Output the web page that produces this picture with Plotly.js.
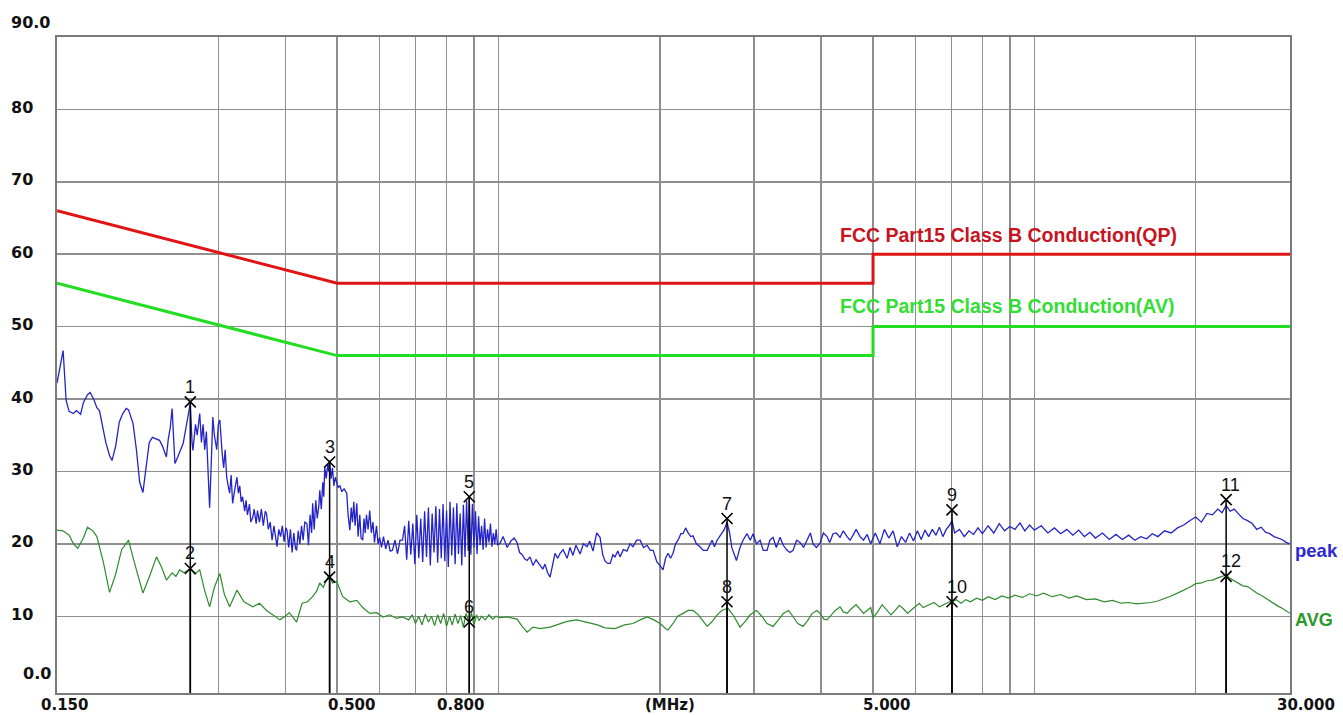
<!DOCTYPE html>
<html>
<head>
<meta charset="utf-8">
<script src="https://cdn.plot.ly/plotly-3.0.1.min.js"></script>
<style>
  html, body { margin: 0; padding: 0; background: #ffffff; }
  #chart { width: 1343px; height: 715px; }
</style>
</head>
<body>
<div id="chart"></div>
<script>
// ---------------- data ----------------
const limitFreq = [0.15, 0.5, 5, 5, 30];
const qpLimit   = [66, 56, 56, 60, 60];
const avLimit   = [56, 46, 46, 50, 50];

const peakFreq = [
  0.150,0.152,0.154,0.156,0.158,0.161,0.163,0.166,0.168,0.171,
  0.173,0.176,0.178,0.180,0.183,0.185,0.188,0.190,0.193,0.196,
  0.199,0.202,0.204,0.206,0.208,0.211,0.214,0.217,0.220,0.223,
  0.226,0.229,0.233,0.236,0.238,0.240,0.242,0.244,0.246,0.248,
  0.249,0.252,0.255,0.258,0.261,0.263,0.266,0.268,0.269,0.272,
  0.274,0.277,0.279,0.281,0.283,0.285,0.287,0.289,0.291,0.293,
  0.295,0.298,0.300,0.302,0.305,0.307,0.309,0.311,0.313,0.315,
  0.317,0.319,0.322,0.325,0.327,0.329,0.331,0.333,0.336,0.338,
  0.340,0.343,0.345,0.348,0.350,0.353,0.355,0.358,0.361,0.364,
  0.367,0.369,0.372,0.375,0.378,0.381,0.384,0.386,0.389,0.392,
  0.395,0.398,0.401,0.403,0.406,0.409,0.412,0.415,0.418,0.420,
  0.423,0.426,0.429,0.432,0.435,0.439,0.442,0.445,0.448,0.450,
  0.453,0.456,0.459,0.462,0.464,0.467,0.470,0.472,0.474,0.477,
  0.480,0.482,0.484,0.487,0.490,0.493,0.496,0.499,0.502,0.506,
  0.510,0.515,0.521,0.524,0.528,0.531,0.534,0.537,0.540,0.544,
  0.547,0.551,0.554,0.558,0.561,0.564,0.567,0.571,0.575,0.579,
  0.583,0.587,0.592,0.596,0.600,0.605,0.610,0.616,0.622,0.628,
  0.634,0.641,0.648,0.655,0.662,0.668,0.674,0.680,0.686,0.692,
  0.698,0.704,0.710,0.716,0.722,0.728,0.734,0.740,0.746,0.752,
  0.758,0.764,0.770,0.776,0.782,0.788,0.794,0.800,0.806,0.812,
  0.818,0.824,0.830,0.836,0.842,0.848,0.854,0.860,0.866,0.872,
  0.878,0.882,0.888,0.894,0.900,0.906,0.912,0.918,0.924,0.930,
  0.936,0.942,0.948,0.954,0.960,0.966,0.972,0.978,0.984,0.990,
  0.996,1.007,1.020,1.038,1.055,1.070,1.083,1.095,1.107,1.120,
  1.131,1.145,1.160,1.175,1.196,1.210,1.221,1.235,1.248,1.262,
  1.275,1.290,1.303,1.320,1.343,1.360,1.377,1.395,1.420,1.440,
  1.463,1.480,1.501,1.525,1.547,1.565,1.581,1.600,1.616,1.635,
  1.650,1.670,1.686,1.710,1.737,1.760,1.783,1.810,1.838,1.865,
  1.894,1.920,1.944,1.975,2.003,2.028,2.050,2.072,2.095,2.117,
  2.140,2.163,2.190,2.210,2.235,2.259,2.285,2.307,2.340,2.377,
  2.410,2.451,2.480,2.504,2.530,2.558,2.585,2.613,2.640,2.670,
  2.700,2.725,2.751,2.780,2.800,2.823,2.860,2.910,2.950,2.986,
  3.030,3.077,3.120,3.171,3.210,3.254,3.300,3.354,3.400,3.456,
  3.500,3.546,3.600,3.655,3.710,3.767,3.820,3.864,3.920,3.982,
  4.040,4.104,4.150,4.211,4.270,4.339,4.400,4.472,4.530,4.589,
  4.650,4.729,4.800,4.874,4.950,5.05,5.15,5.25,5.35,5.45,
  5.55,5.65,5.75,5.85,5.95,6.05,6.15,6.25,6.35,6.45,
  6.55,6.65,6.75,6.85,6.95,7.02,7.10,7.25,7.40,7.55,
  7.70,7.85,8.00,8.20,8.40,8.60,8.80,9.00,9.20,9.40,
  9.60,9.80,10.0,10.3,10.6,10.9,11.2,11.5,11.8,12.1,
  12.4,12.7,13.0,13.4,13.8,14.2,14.6,15.0,15.4,15.8,
  16.2,16.6,17.0,17.5,18.0,18.5,19.0,19.5,20.0,20.5,
  21.0,21.5,22.0,22.4,22.8,23.2,23.6,24.0,24.5,25.0,
  25.5,26.0,26.5,27.0,27.5,28.0,28.5,29.0,29.5,30.0
];
const peakLevel = [
  42.2,44.5,46.7,39.8,38.3,38.0,38.4,37.9,39.5,40.6,
  40.9,39.8,38.8,38.4,36.0,34.0,32.2,31.5,33.5,36.8,
  38.0,38.7,38.5,37.5,36.6,33.0,28.5,27.1,31.0,34.0,
  34.7,34.5,34.3,33.5,32.6,32.0,34.5,36.0,38.7,33.5,
  31.1,32.0,33.0,33.9,36.0,37.5,39.4,34.0,32.9,36.5,
  35.0,38.0,34.0,36.5,33.0,35.5,30.0,25.0,31.0,37.5,
  35.0,33.0,36.5,37.1,32.5,30.5,33.0,29.2,28.0,27.0,
  29.5,25.6,27.5,29.2,27.0,28.0,25.8,26.5,24.5,26.0,
  24.0,25.5,23.0,23.7,24.8,22.8,24.6,23.0,24.8,22.5,
  24.5,24.2,22.0,23.0,20.5,22.5,20.8,19.6,22.0,21.0,
  22.5,20.3,22.2,21.9,19.5,22.0,18.8,21.5,19.4,19.1,
  21.8,20.0,22.5,20.5,23.0,22.8,19.8,24.0,21.5,25.6,
  22.0,26.0,23.5,25.2,27.4,24.8,28.5,26.5,30.6,29.0,
  31.0,30.0,31.5,29.0,30.5,28.0,29.2,28.4,27.8,28.0,
  27.2,27.6,27.0,24.0,21.9,25.0,23.0,25.8,22.5,25.6,
  21.0,24.0,20.8,20.5,23.5,21.5,24.0,22.0,24.6,21.5,
  23.0,20.2,22.5,20.0,20.9,19.5,21.0,19.3,20.5,19.0,
  19.1,20.5,18.6,20.5,20.5,22.5,17.8,23.2,18.5,22.8,
  17.2,24.0,18.0,23.5,17.5,24.5,18.2,25.0,17.0,24.2,
  18.8,25.2,17.4,24.8,18.0,25.5,17.6,24.6,16.8,25.8,
  18.4,25.0,17.2,25.6,18.6,24.2,17.0,25.4,18.2,26.0,
  19.0,26.5,18.5,25.5,19.5,24.5,18.6,23.8,19.8,22.5,
  19.2,23.5,19.5,22.0,20.2,22.8,19.6,21.5,20.0,22.0,
  19.8,20.1,21.0,19.5,20.4,20.8,20.2,18.8,18.5,17.9,
  17.7,18.2,17.0,17.8,17.0,16.5,17.2,16.0,15.4,17.0,
  18.7,18.0,18.7,19.2,18.0,19.5,18.4,19.8,18.6,20.0,
  19.6,20.4,19.0,21.5,20.9,18.5,17.6,17.3,17.3,18.5,
  18.2,19.0,18.2,19.2,19.0,20.0,19.6,20.5,20.5,19.5,
  19.8,19.1,19.1,17.5,17.0,16.4,18.0,18.7,18.0,18.7,
  20.0,20.5,21.4,21.4,22.2,21.5,21.0,21.1,20.0,19.6,
  19.1,19.1,20.0,20.5,19.6,20.5,21.0,21.5,22.0,23.0,
  21.5,19.5,18.5,17.7,18.5,19.5,20.5,21.4,20.5,21.4,
  20.0,20.5,19.1,19.1,20.5,20.9,19.5,20.9,19.8,19.1,
  18.8,19.1,20.5,20.2,19.5,20.5,21.5,20.0,19.5,20.1,
  21.5,21.0,20.2,21.4,21.5,20.9,21.8,21.0,20.5,21.2,
  22.0,21.0,20.5,21.3,20.0,21.5,20.0,22.0,20.8,21.8,
  19.6,21.0,20.2,21.5,20.4,21.8,20.6,21.9,21.0,22.0,
  21.2,22.3,21.0,22.0,22.6,23.2,21.5,22.0,21.0,21.8,
  21.3,22.2,21.4,22.5,21.5,22.8,21.8,22.4,22.0,22.9,
  21.8,22.6,21.9,22.5,21.5,22.2,21.4,22.0,21.2,21.9,
  21.0,21.6,20.8,21.5,20.6,21.3,20.6,21.2,20.5,21.0,
  20.7,21.4,21.0,21.8,21.5,22.2,22.6,23.2,23.7,23.0,
  24.2,24.0,24.8,24.3,25.3,24.5,24.8,24.2,23.5,23.2,
  22.8,22.0,22.3,21.6,21.4,21.0,20.8,20.6,20.2,20.0
];

const avgFreq = [
  0.150,0.154,0.158,0.161,0.164,0.168,0.171,0.175,0.178,0.183,
  0.188,0.193,0.198,0.204,0.209,0.217,0.224,0.230,0.235,0.240,
  0.246,0.250,0.254,0.259,0.266,0.271,0.277,0.283,0.289,0.295,
  0.302,0.308,0.315,0.320,0.325,0.335,0.348,0.358,0.369,0.379,
  0.391,0.400,0.407,0.420,0.430,0.440,0.450,0.458,0.464,0.471,
  0.480,0.484,0.490,0.499,0.512,0.528,0.544,0.558,0.575,0.592,
  0.609,0.627,0.645,0.662,0.680,0.690,0.700,0.710,0.720,0.730,
  0.740,0.750,0.760,0.770,0.780,0.790,0.800,0.810,0.820,0.830,
  0.840,0.850,0.860,0.870,0.882,0.890,0.900,0.910,0.920,0.930,
  0.945,0.960,0.975,0.990,1.007,1.040,1.083,1.107,1.131,1.160,
  1.196,1.248,1.300,1.343,1.400,1.463,1.530,1.580,1.650,1.720,
  1.783,1.850,1.894,1.950,2.003,2.050,2.072,2.117,2.160,2.210,
  2.260,2.307,2.360,2.400,2.451,2.500,2.560,2.610,2.680,2.750,
  2.823,2.880,2.950,3.030,3.100,3.170,3.254,3.330,3.400,3.480,
  3.546,3.620,3.700,3.767,3.850,3.930,3.982,4.050,4.104,4.180,
  4.250,4.339,4.400,4.472,4.550,4.650,4.720,4.800,4.874,4.950,
  5.0,5.1,5.2,5.3,5.4,5.5,5.6,5.7,5.8,5.9,
  6.0,6.1,6.2,6.35,6.5,6.65,6.8,6.95,7.03,7.15,
  7.3,7.45,7.6,7.8,8.0,8.2,8.45,8.7,8.95,9.2,
  9.5,9.8,10.1,10.4,10.8,11.2,11.6,12.0,12.5,13.0,
  13.5,14.0,14.5,15.0,15.5,16.0,16.5,17.0,17.5,18.0,
  18.5,19.0,19.5,20.0,20.5,21.0,21.5,22.0,22.4,22.8,
  23.2,23.6,24.0,24.5,25.0,25.5,26.0,26.5,27.0,27.5,
  28.0,28.5,29.0,29.5,30.0
];
const avgLevel = [
  21.9,21.8,21.2,20.0,19.4,20.8,22.3,21.8,21.0,17.5,
  13.3,15.8,19.2,20.5,17.5,13.2,15.8,18.2,16.8,15.0,
  16.0,15.5,16.4,16.0,16.6,15.8,16.4,13.5,11.3,14.0,
  15.9,13.0,11.3,12.5,13.6,12.0,11.3,11.8,10.8,10.2,
  9.5,10.0,10.5,9.2,11.8,12.0,12.7,13.5,14.6,14.0,
  15.4,15.6,14.6,14.8,12.7,12.0,12.2,11.2,10.4,10.5,
  9.9,10.2,9.7,9.9,9.5,10.2,9.0,10.0,8.8,10.3,
  9.2,10.0,8.7,10.2,9.0,10.4,8.6,10.0,8.8,10.3,
  9.0,10.1,8.5,10.4,9.2,10.5,8.8,10.2,9.4,10.0,
  9.5,10.2,9.6,10.0,9.8,9.9,9.6,8.6,7.8,8.5,
  8.3,8.5,9.0,9.3,9.5,9.2,8.8,8.4,8.3,8.8,
  9.0,9.6,9.9,9.5,9.0,8.3,8.1,9.0,10.0,10.4,
  10.8,10.8,10.2,9.5,8.6,9.2,10.2,10.8,11.1,10.0,
  8.5,9.2,10.2,10.8,10.0,9.0,8.6,9.5,10.4,10.8,
  10.0,9.0,8.6,9.3,10.4,10.8,10.4,9.6,9.5,10.2,
  10.8,11.3,10.6,10.4,11.0,11.6,11.0,10.4,10.8,11.2,
  9.8,10.6,11.6,10.9,10.2,10.8,11.5,11.0,10.4,10.9,
  11.4,11.8,11.2,11.6,11.9,11.3,11.7,12.0,12.0,12.3,
  11.8,12.3,12.0,12.5,12.2,12.7,12.3,12.8,12.5,12.9,
  12.6,13.1,12.8,13.2,12.7,13.0,12.5,12.8,12.3,12.4,
  12.0,12.2,11.8,11.9,11.7,11.8,11.9,12.1,12.4,12.8,
  13.2,13.6,14.0,14.5,14.6,14.9,15.0,15.3,15.5,15.7,
  15.2,14.9,14.6,14.2,14.1,13.6,13.2,12.9,12.5,12.2,
  11.8,11.4,11.1,10.8,10.4
];

const markerFreq  = [0.266, 0.266, 0.484, 0.484, 0.882, 0.882, 2.67, 2.67, 7.02, 7.02, 22.8, 22.8];
const markerLevel = [39.6, 16.6, 31.3, 15.4, 26.5, 9.2, 23.5, 12.0, 24.7, 12.0, 26.1, 15.5];
const markerLabel = ['1','2','3','4','5','6','7','8','9','10','11','12'];

const xGridVals  = [0.3,0.4,0.5,0.6,0.7,0.8,0.9,1,2,3,4,5,6,7,8,9,10,20];
const xTickVals  = [0.15, 0.5, 0.8, 2, 5, 30];
const xTickText  = ['0.150','0.500','0.800','(MHz)','5.000','30.000'];
const yGridVals  = [10,20,30,40,50,60,70,80];
const yTickVals  = [90,80,70,60,50,40,30,20,10,0];
const yTickText  = ['90.0','80','70','60','50','40','30','20','10','0.0'];

const qpLabel  = 'FCC Part15 Class B Conduction(QP)';
const avLabel  = 'FCC Part15 Class B Conduction(AV)';
const peakName = 'peak';
const avgName  = 'AVG';

// ---------------- styling / layout ----------------
const Y_MIN = -0.6, Y_MAX = 90;
const FONT = 'Liberation Sans, Arial, sans-serif';
const TICKFONT = 'DejaVu Sans, Liberation Sans, sans-serif';

const vx = [], vy = [];
markerFreq.forEach((f, i) => { vx.push(f, f, null); vy.push(markerLevel[i], Y_MIN, null); });

const traces = [
  { x: avgFreq, y: avgLevel, type: 'scatter', mode: 'lines',
    line: { color: '#2e8b2e', width: 1.2 }, name: avgName },
  { x: peakFreq, y: peakLevel, type: 'scatter', mode: 'lines',
    line: { color: '#2323c8', width: 1.3 }, name: peakName },
  { x: limitFreq, y: qpLimit, type: 'scatter', mode: 'lines',
    line: { color: '#e01414', width: 3 }, name: 'QP' },
  { x: limitFreq, y: avLimit, type: 'scatter', mode: 'lines',
    line: { color: '#22dd22', width: 3 }, name: 'AV' },
  { x: vx, y: vy, type: 'scatter', mode: 'lines',
    line: { color: '#000000', width: 1.5 }, connectgaps: false },
  { x: markerFreq, y: markerLevel, type: 'scatter', mode: 'markers',
    marker: { symbol: 'x-thin', size: 11, color: '#000', line: { color: '#000', width: 1.6 } } }
];

const ann = [];
// y tick labels
yTickVals.forEach((v, i) => {
  const t = yTickText[i];
  const isEnd = (i === 0 || i === yTickVals.length - 1);
  ann.push({ xref: 'paper', yref: 'y', x: 0, y: v, text: t, showarrow: false,
    xanchor: 'left', yanchor: 'middle', xshift: (t === '0.0') ? -36 : -48,
    yshift: isEnd ? 15 : 2,
    font: { family: TICKFONT, size: 16, color: '#111', weight: 'bold' } });
});
// x tick labels
const xShifts = [7, 14, 13.5, 10, 13, 16];
xTickVals.forEach((v, i) => {
  ann.push({ xref: 'x', yref: 'paper', x: Math.log10(v), y: 0, text: xTickText[i], showarrow: false,
    xanchor: 'center', yanchor: 'top', xshift: xShifts[i], yshift: -1,
    font: { family: TICKFONT, size: 15, color: '#111', weight: 'bold' } });
});
// marker numbers
markerFreq.forEach((f, i) => {
  ann.push({ xref: 'x', yref: 'y', x: Math.log10(f), y: markerLevel[i], text: markerLabel[i], showarrow: false,
    xanchor: 'left', yanchor: 'middle', xshift: -7, yshift: 15,
    font: { family: FONT, size: 18, color: '#111' } });
});
// limit labels
ann.push({ xref: 'x', yref: 'y', x: Math.log10(4.30), y: 62.6, text: qpLabel, showarrow: false,
  xanchor: 'left', yanchor: 'middle', font: { family: FONT, size: 19.5, color: '#c8141e', weight: 'bold' } });
ann.push({ xref: 'x', yref: 'y', x: Math.log10(4.30), y: 52.8, text: avLabel, showarrow: false,
  xanchor: 'left', yanchor: 'middle', font: { family: FONT, size: 19.5, color: '#33dd33', weight: 'bold' } });
// trace names
ann.push({ xref: 'paper', yref: 'y', x: 1, y: 19.1, text: peakName, showarrow: false,
  xanchor: 'left', yanchor: 'middle', xshift: 3, font: { family: FONT, size: 18.5, color: '#2a2ad0', weight: 'bold' } });
ann.push({ xref: 'paper', yref: 'y', x: 1, y: 9.45, text: avgName, showarrow: false,
  xanchor: 'left', yanchor: 'middle', xshift: 3, font: { family: FONT, size: 18, color: '#2a9a2a', weight: 'bold' } });

const layout = {
  width: 1343, height: 715,
  margin: { l: 57, r: 53, t: 37, b: 22, pad: 0 },
  paper_bgcolor: '#ffffff', plot_bgcolor: '#ffffff',
  showlegend: false, hovermode: false,
  xaxis: { type: 'log', range: [Math.log10(0.15), Math.log10(30)],
    tickmode: 'array', tickvals: xGridVals, showticklabels: false, ticks: '',
    showgrid: true, gridcolor: '#8f8f8f', gridwidth: 1.5,
    showline: true, mirror: true, linecolor: '#7a7a7a', linewidth: 2, zeroline: false },
  yaxis: { range: [Y_MIN, Y_MAX],
    tickmode: 'array', tickvals: yGridVals, showticklabels: false, ticks: '',
    showgrid: true, gridcolor: '#8f8f8f', gridwidth: 1.5,
    showline: true, mirror: true, linecolor: '#7a7a7a', linewidth: 2, zeroline: false },
  annotations: ann
};

Plotly.newPlot('chart', traces, layout, { displayModeBar: false, staticPlot: true });
</script>
</body>
</html>
